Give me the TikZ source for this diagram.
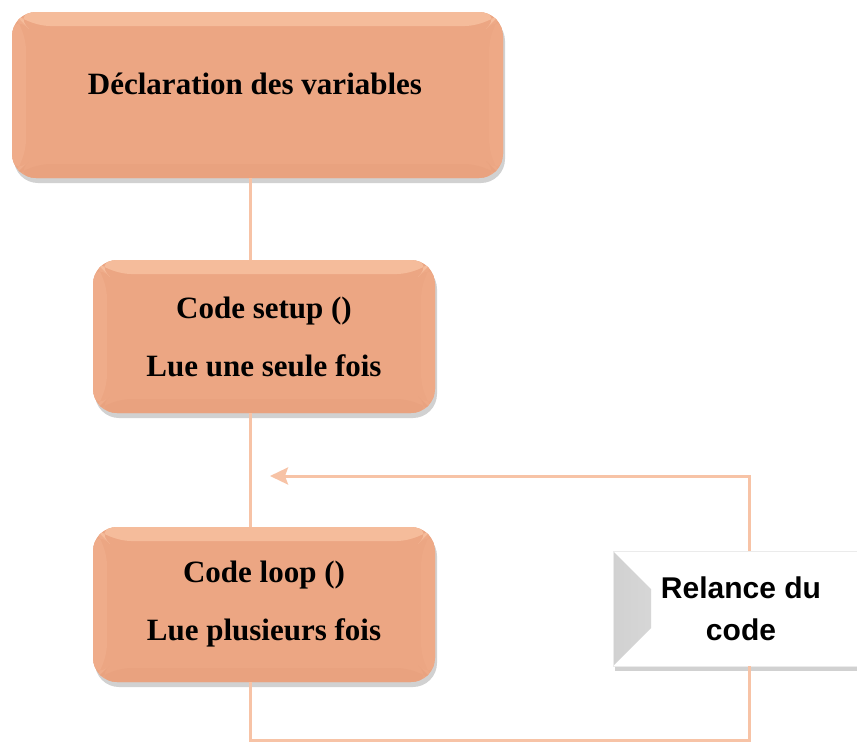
\documentclass[tikz,border=0pt]{standalone}
\usepackage{fontspec}
\setmainfont{Liberation Serif}
\newfontfamily\relfont{Liberation Sans}
\usetikzlibrary{arrows.meta,shadows,calc}
\definecolor{boxfill}{HTML}{ECA683}
\definecolor{bvtop}{HTML}{F5BC9B}
\definecolor{bvleft}{HTML}{EFAC8A}
\definecolor{bvright}{HTML}{EEA986}
\definecolor{bvbot}{HTML}{E9A27F}
\definecolor{linecol}{HTML}{F7C3A6}
\tikzset{
  bevelfill/.style n args={4}{path picture={
    \fill[#1] (path picture bounding box.north west) -- (path picture bounding box.north east)
      -- ([xshift=-14pt,yshift=-14pt]path picture bounding box.north east)
      -- ([xshift=14pt,yshift=-14pt]path picture bounding box.north west) -- cycle;
    \fill[#2] (path picture bounding box.north west) -- (path picture bounding box.south west)
      -- ([xshift=14pt,yshift=14pt]path picture bounding box.south west)
      -- ([xshift=14pt,yshift=-14pt]path picture bounding box.north west) -- cycle;
    \fill[#3] (path picture bounding box.north east) -- (path picture bounding box.south east)
      -- ([xshift=-14pt,yshift=14pt]path picture bounding box.south east)
      -- ([xshift=-14pt,yshift=-14pt]path picture bounding box.north east) -- cycle;
    \fill[#4] (path picture bounding box.south west) -- (path picture bounding box.south east)
      -- ([xshift=-14pt,yshift=14pt]path picture bounding box.south east)
      -- ([xshift=14pt,yshift=14pt]path picture bounding box.south west) -- cycle;
  }},
  orangebox/.style={draw=none, fill=boxfill, rounded corners=24pt,
    bevelfill={bvtop}{bvleft}{bvright}{bvbot},
    drop shadow={shadow xshift=2pt, shadow yshift=-5pt, opacity=0.3, fill=black!60},
    align=center, inner sep=0pt,
    font=\bfseries\fontsize{31}{58}\selectfont},
  boxtext/.style={align=center, inner sep=0pt, font=\bfseries\fontsize{31}{58}\selectfont},
  relbox/.style={draw=black!8, line width=0.8pt, fill=white, align=center, inner sep=0pt,
    path picture={
      \shade[left color=black!18, right color=black!4]
        (path picture bounding box.north west) -- ([xshift=38pt,yshift=-38pt]path picture bounding box.north west)
        -- ([xshift=38pt,yshift=38pt]path picture bounding box.south west)
        -- (path picture bounding box.south west) -- cycle;
    },
    drop shadow={shadow xshift=2pt, shadow yshift=-5pt, opacity=0.3, fill=black!60},
    font=\relfont\bfseries\fontsize{30}{42}\selectfont},
  conn/.style={draw=linecol, line width=3pt},
}
\begin{document}
\begin{tikzpicture}[x=1pt,y=-1pt]
\useasboundingbox (0,0) rectangle (857,742);
\coordinate (spine) at (250,0);
\coordinate (back) at (749,0);

\node[orangebox, minimum width=491pt, minimum height=166pt] (decl) at (257.5,95) {};
\node[boxtext] (decltxt) at (255,84) {Déclaration des variables};

\node[orangebox, minimum width=342pt, minimum height=153pt] (setup) at (264,336.5)
  {Code setup ()\\Lue une seule fois};
\node[orangebox, minimum width=342pt, minimum height=155pt] (loop) at (264,604.5)
  {Code loop ()\\Lue plusieurs fois};

\node[relbox, minimum width=256pt, minimum height=115pt] (relance) at (741,608.5)
  {Relance du\\code};

\coordinate (bottom) at (250,740);
\coordinate (tip) at (270,476);

\draw[conn] (decl.south -| spine) -- (setup.north -| spine);
\draw[conn] (setup.south -| spine) -- (loop.north -| spine);
\draw[conn] (loop.south -| spine) -- (bottom) -| (relance.south -| back);
\draw[conn, -{Stealth[length=18pt, width=17pt, inset=3pt]}] (relance.north -| back) |- (tip);
\end{tikzpicture}
\end{document}
